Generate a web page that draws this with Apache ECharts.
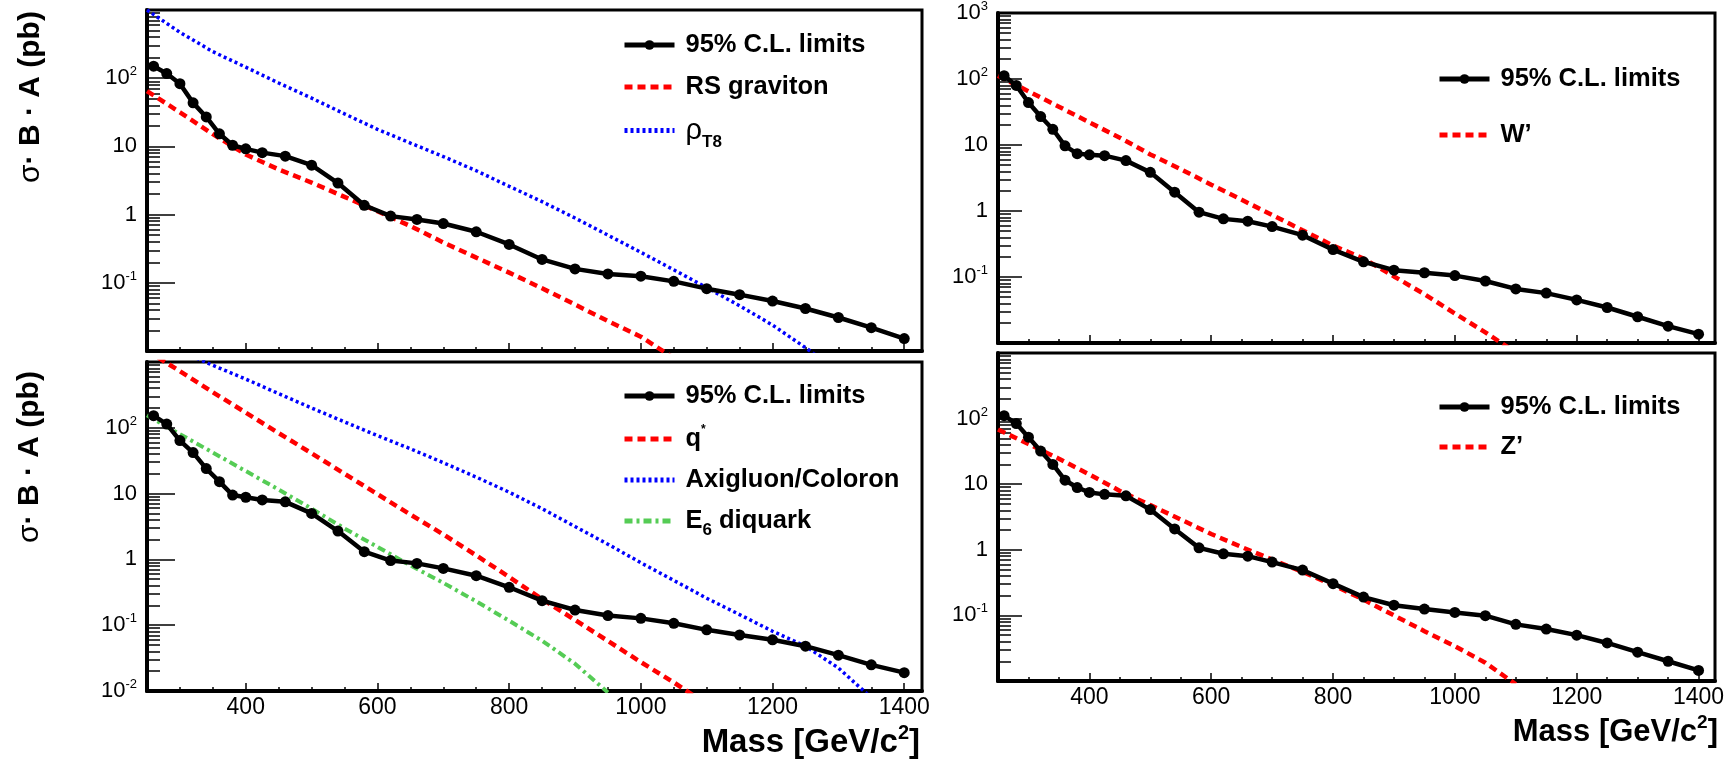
<!DOCTYPE html>
<html><head><meta charset="utf-8">
<script src="https://cdn.jsdelivr.net/npm/echarts@6/dist/echarts.min.js"></script>
<style>html,body{margin:0;padding:0;background:#fff}#c{width:1736px;height:762px}</style>
</head><body><div id="c"></div>
<script>
// ---------------- data ----------------
const massLimits = [260,280,300,320,340,360,380,400,425,460,500,540,580,620,660,700,750,800,850,900,950,1000,1050,1100,1150,1200,1250,1300,1350,1400];
const limitsTL = [150,117,83,43.5,27,15.3,10.4,9.2,8.1,7.2,5.3,2.9,1.37,0.95,0.85,0.74,0.56,0.365,0.22,0.16,0.135,0.125,0.105,0.082,0.067,0.054,0.042,0.031,0.022,0.0152];
const limitsBL = [153,114,64,42,24,15.2,9.5,8.8,8.0,7.5,5.0,2.7,1.31,0.96,0.87,0.73,0.565,0.377,0.236,0.17,0.14,0.127,0.107,0.085,0.071,0.06,0.048,0.035,0.025,0.019];
const limitsTR = [112,80,44,27,17.3,9.7,7.4,7.1,6.9,5.8,3.85,1.93,0.96,0.76,0.7,0.58,0.43,0.26,0.17,0.127,0.116,0.105,0.087,0.066,0.057,0.045,0.0345,0.025,0.018,0.0136];
const limitsBR = [111,84,52,32,20,11.5,8.9,7.5,7.0,6.65,4.1,2.08,1.07,0.87,0.80,0.65,0.49,0.305,0.19,0.143,0.125,0.111,0.099,0.073,0.062,0.050,0.038,0.0275,0.02,0.0145];

const massTheory = [250,300,350,400,450,500,550,600,650,700,750,800,850,900,950,1000,1050,1100,1150,1200,1250,1300,1350,1400];
const rsGraviton = [64.6,31.6,15.1,7.6,4.6,2.95,1.82,1.12,0.68,0.39,0.234,0.141,0.083,0.048,0.0275,0.0162,0.0079];
const rhoT8 = [1000,470,245,145,85,51,30,17.8,11.2,7.1,4.4,2.6,1.55,0.89,0.5,0.28,0.155,0.085,0.046,0.024,0.0112,0.005];
const qStar = [1480,725,347,170,83,41,20,9.8,4.8,2.4,1.15,0.54,0.25,0.12,0.0575,0.0275,0.0135,0.0063];
const axigluon = [2400,1480,890,550,330,200,123,76,48,29.5,17.8,10.5,5.9,3.16,1.7,0.89,0.48,0.257,0.145,0.081,0.048,0.0224,0.0079];
const e6Diquark = [155,80,42,22,11.5,5.9,2.95,1.55,0.81,0.44,0.23,0.117,0.058,0.026,0.0095];
const wPrime = [112,65,38,22,12.9,7.2,4.3,2.5,1.48,0.87,0.51,0.30,0.19,0.102,0.055,0.028,0.0145,0.0072];
const zPrime = [68,41,24.5,14.1,7.9,4.8,2.9,1.74,1.1,0.71,0.46,0.29,0.174,0.1,0.0575,0.034,0.019,0.0089];

const xTickLabels = [400,600,800,1000,1200,1400];
const xMinorTicks = [300,350,450,500,550,650,700,750,850,900,950,1050,1100,1150,1250,1300,1350];
const yMajorTicks = [0.01,0.1,1,10,100,1000];
const yLabelsTL = [0.1,1,10,100];
const yLabelsBL = [0.01,0.1,1,10,100];
const yLabelsTR = [0.1,1,10,100,1000];
const yLabelsBR = [0.1,1,10,100];
const yMinorTicks = [];
for (let k = -2; k <= 2; k++) for (let d = 2; d <= 9; d++) yMinorTicks.push(+(d * Math.pow(10, k)).toPrecision(3));

// ---------------- layout ----------------
const FONT = '"Liberation Sans", Arial, Helvetica, sans-serif';
const grids = [
  {left:147, top:10, width:775, height:341},   // TL
  {left:147, top:362, width:775, height:329},  // BL
  {left:998, top:13, width:717, height:330},   // TR
  {left:998, top:353, width:717, height:328}   // BR
];
const yLabelSets = [yLabelsTL, yLabelsBL, yLabelsTR, yLabelsBR];
const showX = [false, true, false, true];
const yMajorLen = [28, 28, 24, 24];

function yFmt(v) {
  const e = Math.round(Math.log10(v));
  if (e === 0) return '{b|1}';
  if (e === 1) return '{b|10}';
  return '{b|10}{sup|' + e + '}';
}

const xAxes = [], yAxes = [];
grids.forEach((g, i) => {
  xAxes.push({
    type:'value', gridIndex:i, min:250, max:1427, position:'bottom',
    axisLine:{show:true, onZero:false, lineStyle:{color:'#000', width:4}},
    axisTick:{show:true, inside:true, length:8, customValues:xTickLabels, lineStyle:{color:'#000', width:1.5}},
    axisLabel:{show:showX[i], customValues:xTickLabels, margin:5, color:'#000', fontSize:23, fontFamily:FONT,
      formatter:(v) => String(Math.round(v))},
    splitLine:{show:false}
  });
  xAxes.push({
    type:'value', gridIndex:i, min:250, max:1427, position:'bottom',
    axisLine:{show:false},
    axisTick:{show:true, inside:true, length:4, customValues:xMinorTicks, lineStyle:{color:'#000', width:1.5}},
    axisLabel:{show:false}, splitLine:{show:false}
  });
  yAxes.push({
    type:'log', logBase:10, gridIndex:i, min:0.01, max:1000, position:'left',
    axisLine:{show:true, onZero:false, lineStyle:{color:'#000', width:4}},
    axisTick:{show:true, inside:true, length:yMajorLen[i], customValues:yMajorTicks, lineStyle:{color:'#000', width:1.5}},
    axisLabel:{show:true, customValues:yLabelSets[i], margin:10, formatter:yFmt,
      rich:{
        b:{fontSize:22, fontFamily:FONT, color:'#000', lineHeight:26},
        sup:{fontSize:13, fontFamily:FONT, color:'#000', lineHeight:13, verticalAlign:'top'}
      }},
    splitLine:{show:false}
  });
  yAxes.push({
    type:'log', logBase:10, gridIndex:i, min:0.01, max:1000, position:'left',
    axisLine:{show:false},
    axisTick:{show:true, inside:true, length:13, customValues:yMinorTicks, lineStyle:{color:'#000', width:1.5}},
    axisLabel:{show:false}, splitLine:{show:false}
  });
});

function pairs(xs, ys) { return ys.map((v, k) => [xs[k], v]); }

const LIM = '95% C.L. limits';
function limitSeries(i, arr) {
  return {name:LIM, type:'line', xAxisIndex:2*i, yAxisIndex:2*i, data:pairs(massLimits, arr),
    symbol:'circle', symbolSize:11, z:5,
    lineStyle:{color:'#000', width:4.5}, itemStyle:{color:'#000'}};
}
const RED = {color:'#ff0000', width:4.5, type:[8,5]};
const BLUE = {color:'#0000ff', width:3.5, type:[3,3]};
const GREEN = {color:'#55cc55', width:4, type:[8,4,3,4]};
function theory(i, name, arr, ls) {
  return {name:name, type:'line', xAxisIndex:2*i, yAxisIndex:2*i, data:pairs(massTheory, arr),
    symbol:'none', z:3, lineStyle:ls, itemStyle:{color:ls.color}};
}

const series = [
  theory(0, 'RS graviton', rsGraviton, RED),
  theory(0, 'ρT8', rhoT8, BLUE),
  limitSeries(0, limitsTL),
  theory(1, 'q*', qStar, RED),
  theory(1, 'Axigluon/Coloron', axigluon, BLUE),
  theory(1, 'E6 diquark', e6Diquark, GREEN),
  limitSeries(1, limitsBL),
  theory(2, 'W’', wPrime, RED),
  limitSeries(2, limitsTR),
  theory(3, 'Z’', zPrime, RED),
  limitSeries(3, limitsBR)
];

const LFS = 25.5;
const legendRich = {
  n:{fontSize:LFS, fontWeight:'bold', fontFamily:FONT, color:'#000', lineHeight:30},
  g:{fontSize:29, fontWeight:'normal', fontFamily:FONT, color:'#000', lineHeight:30},
  sub:{fontSize:17, fontWeight:'bold', fontFamily:FONT, color:'#000', lineHeight:40, verticalAlign:'bottom'},
  sub6:{fontSize:17, fontWeight:'bold', fontFamily:FONT, color:'#000', lineHeight:36, verticalAlign:'bottom'},
  sup:{fontSize:12, fontWeight:'bold', fontFamily:FONT, color:'#000', lineHeight:12, verticalAlign:'top'}
};
function legendFmt(name) {
  if (name === 'ρT8') return '{g|ρ}{sub|T8}';
  if (name === 'q*') return '{n|q}{sup|*}';
  if (name === 'E6 diquark') return '{n|E}{sub6|6}{n| diquark}';
  return '{n|' + name + '}';
}
const HIDE_SYMBOL = {color:'rgba(0,0,0,0)', borderColor:'rgba(0,0,0,0)', borderWidth:0};
function legend(left, top, gap, data) {
  return {left:left, top:top, orient:'vertical', padding:0, itemWidth:50, itemHeight:12, itemGap:gap,
    selectedMode:false,
    lineStyle:{width:5},
    data:data.map(n => n === LIM ? n : {name:n, itemStyle:HIDE_SYMBOL}),
    formatter:legendFmt,
    textStyle:{rich:legendRich, padding:[0,0,0,6]}};
}

const titleRich = {
  s:{fontSize:30, fontFamily:FONT, color:'#000'},
  b:{fontSize:30, fontWeight:'bold', fontFamily:FONT, color:'#000'}
};
const massRich = (fs) => ({
  b:{fontSize:fs, fontWeight:'bold', fontFamily:FONT, color:'#000', lineHeight:fs+6},
  sup:{fontSize:Math.round(fs*0.6), fontWeight:'bold', fontFamily:FONT, color:'#000', lineHeight:Math.round(fs*0.6), verticalAlign:'top'}
});

const option = {
  backgroundColor:'#fff',
  animation:false,
  grid: grids.map(g => Object.assign({show:true, borderColor:'#000', borderWidth:3, backgroundColor:'#fff'}, g)),
  xAxis: xAxes,
  yAxis: yAxes,
  legend: [
    legend(622, 32, 16, [LIM, 'RS graviton', 'ρT8']),
    legend(622, 383, 15, [LIM, 'q*', 'Axigluon/Coloron', 'E6 diquark']),
    legend(1437, 66, 30, [LIM, 'W’']),
    legend(1437, 394, 14, [LIM, 'Z’'])
  ],
  series: series,
  graphic: [
    {type:'text', x:31, y:97, rotation:Math.PI/2, style:{text:'{s|σ}{b|· B · A (pb)}', rich:titleRich, align:'center', verticalAlign:'middle'}},
    {type:'text', x:30, y:457, rotation:Math.PI/2, style:{text:'{s|σ}{b|· B · A (pb)}', rich:titleRich, align:'center', verticalAlign:'middle'}},
    {type:'text', x:920, y:743, style:{text:'{b|Mass [GeV/c}{sup|2}{b|]}', rich:massRich(33), align:'right', verticalAlign:'middle'}},
    {type:'text', x:1718, y:732, style:{text:'{b|Mass [GeV/c}{sup|2}{b|]}', rich:massRich(31), align:'right', verticalAlign:'middle'}}
  ]
};

const chart = echarts.init(document.getElementById('c'), null, {renderer:'canvas'});
chart.setOption(option);
</script>
</body></html>
